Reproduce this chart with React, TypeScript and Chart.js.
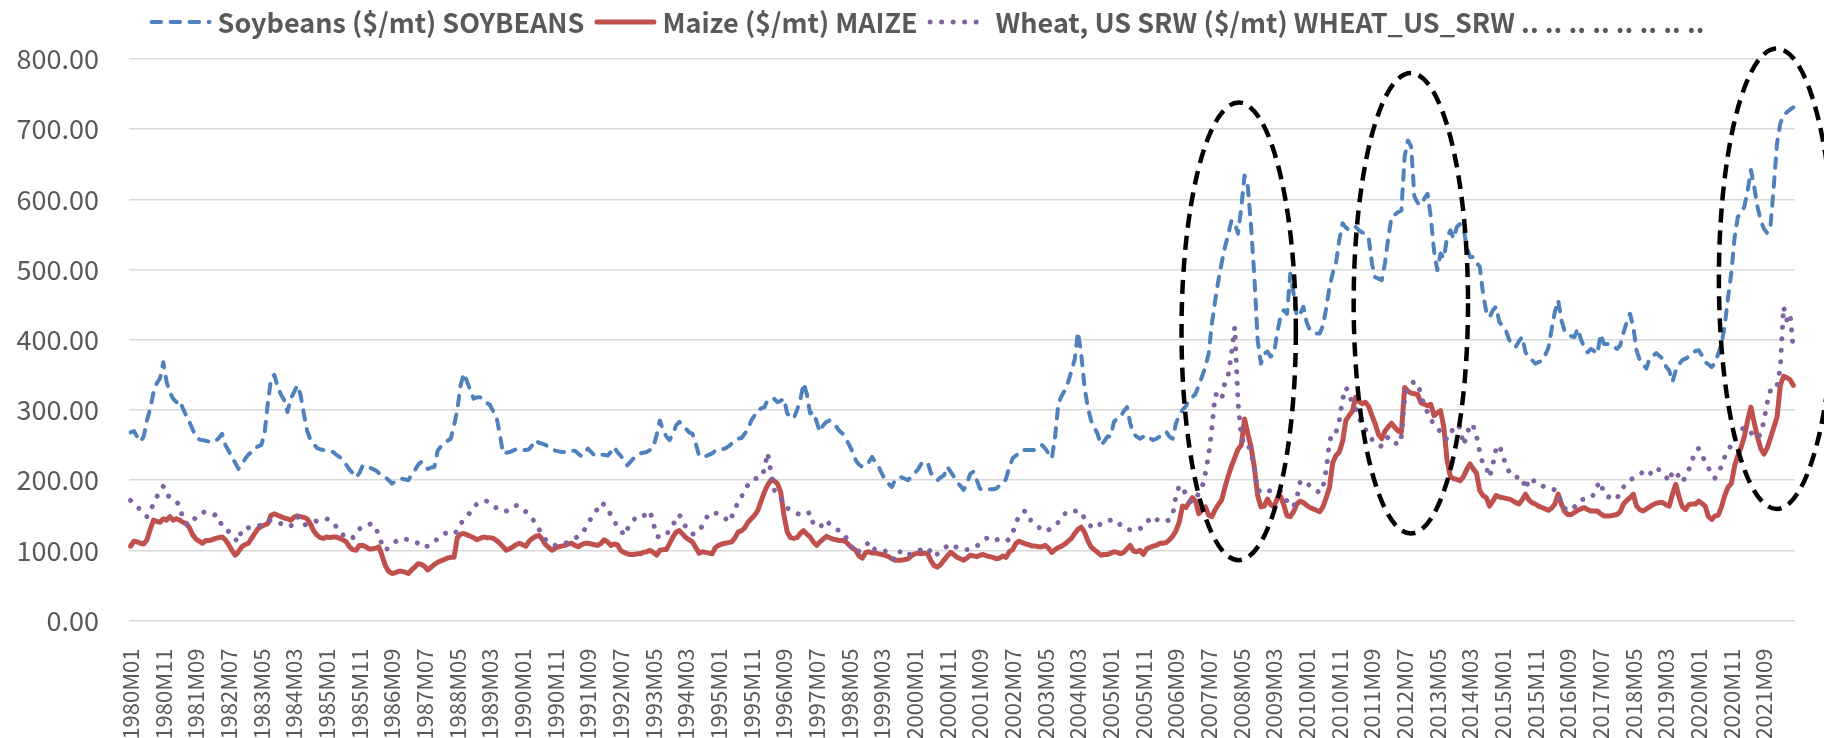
import React, { useEffect, useRef } from "react";
import { Chart, registerables } from "chart.js";

Chart.register(...registerables);

// ---------------- data ----------------
const START_YEAR = 1980;
const LABEL_EVERY = 10;

const SERIES_LABELS = [
  "Soybeans ($/mt) SOYBEANS",
  "Maize ($/mt) MAIZE",
  "Wheat, US SRW ($/mt) WHEAT_US_SRW .. .. .. .. .. .. .. ..",
];

// monthly, one row per year (1980 .. 2022M06)
const SOYBEANS = [
  268, 270, 262, 255, 262, 285, 302, 325, 338, 345, 368, 340,
  325, 316, 311, 314, 302, 292, 283, 272, 262, 258, 257, 256,
  255, 254, 256, 260, 266, 250, 242, 232, 225, 216, 222, 230,
  236, 240, 246, 248, 250, 266, 310, 345, 350, 333, 322, 314,
  297, 316, 325, 335, 322, 295, 271, 258, 252, 246, 244, 243,
  242, 241, 240, 236, 233, 228, 222, 215, 210, 204, 210, 220,
  221, 218, 216, 214, 210, 206, 204, 200, 195, 198, 200, 202,
  201, 200, 207, 214, 222, 226, 220, 216, 218, 219, 242, 248,
  252, 256, 259, 278, 300, 335, 352, 340, 328, 316, 318, 318,
  313, 310, 307, 298, 290, 266, 238, 239, 240, 242, 244, 245,
  243, 243, 244, 250, 257, 253, 252, 250, 247, 245, 242, 241,
  240, 240, 242, 242, 242, 238, 234, 240, 245, 240, 235, 236,
  236, 236, 235, 240, 247, 240, 235, 228, 221, 226, 231, 235,
  238, 239, 240, 243, 247, 264, 285, 271, 262, 257, 266, 278,
  283, 278, 273, 268, 266, 252, 235, 233, 234, 236, 238, 242,
  242, 244, 245, 248, 252, 255, 259, 260, 266, 273, 285, 292,
  300, 302, 304, 314, 316, 316, 311, 313, 316, 295, 290, 288,
  300, 314, 338, 323, 295, 297, 283, 269, 278, 283, 285, 280,
  276, 270, 266, 258, 250, 240, 228, 222, 219, 224, 226, 233,
  225, 219, 209, 200, 195, 190, 200, 204, 204, 202, 200, 205,
  210, 215, 223, 226, 225, 210, 202, 200, 204, 207, 219, 212,
  205, 197, 192, 186, 195, 209, 212, 200, 188, 186, 186, 187,
  187, 188, 192, 195, 202, 219, 231, 235, 238, 243, 243, 243,
  243, 243, 247, 250, 245, 238, 231, 262, 309, 320, 328, 340,
  355, 372, 411, 380, 333, 304, 285, 275, 266, 250, 255, 262,
  262, 283, 288, 290, 298, 304, 281, 266, 262, 259, 262, 264,
  260, 257, 259, 262, 266, 269, 262, 259, 281, 292, 300, 305,
  314, 318, 323, 335, 348, 361, 380, 423, 456, 485, 510, 532,
  550, 570, 566, 551, 589, 634, 618, 561, 490, 400, 366, 380,
  383, 376, 380, 410, 433, 442, 437, 494, 466, 433, 437, 447,
  425, 414, 410, 409, 409, 420, 445, 475, 495, 510, 542, 566,
  560, 556, 558, 561, 556, 553, 551, 545, 508, 489, 487, 485,
  510, 545, 575, 578, 582, 584, 661, 684, 675, 604, 595, 592,
  601, 608, 575, 527, 499, 523, 516, 546, 556, 544, 561, 565,
  560, 532, 518, 518, 510, 504, 466, 440, 432, 442, 447, 425,
  420, 413, 400, 392, 390, 398, 404, 382, 375, 371, 366, 368,
  370, 378, 388, 415, 440, 456, 428, 412, 408, 405, 404, 416,
  400, 390, 382, 387, 384, 380, 408, 394, 394, 394, 390, 387,
  392, 410, 425, 437, 418, 385, 371, 365, 359, 373, 377, 381,
  377, 373, 362, 356, 340, 356, 365, 371, 373, 376, 380, 384,
  385, 378, 368, 365, 361, 367, 380, 394, 420, 460, 495, 545,
  575, 580, 590, 612, 642, 618, 590, 570, 558, 552, 562, 618,
  680, 708, 720, 724, 728, 731,
];

const MAIZE = [
  106, 113, 112, 110, 109, 115, 130, 143, 141, 140, 145, 143,
  148, 143, 145, 143, 140, 138, 132, 122, 116, 113, 110, 114,
  114, 115, 117, 118, 119, 115, 108, 100, 93, 98, 105, 108,
  110, 117, 124, 131, 134, 136, 138, 150, 152, 150, 148, 146,
  145, 143, 147, 149, 148, 147, 145, 138, 128, 122, 118, 117,
  119, 118, 119, 119, 117, 115, 112, 105, 101, 100, 107, 107,
  105, 102, 102, 103, 105, 92, 78, 70, 67, 68, 70, 70,
  69, 67, 72, 76, 81, 80, 77, 72, 76, 80, 83, 85,
  87, 89, 90, 90, 118, 123, 124, 122, 120, 118, 115, 117,
  119, 118, 118, 117, 114, 110, 105, 100, 102, 105, 108, 110,
  108, 106, 113, 117, 120, 121, 116, 108, 104, 100, 103, 105,
  106, 107, 109, 110, 107, 105, 108, 110, 110, 109, 108, 107,
  110, 115, 112, 107, 109, 108, 100, 97, 95, 94, 94, 95,
  95, 97, 98, 100, 97, 93, 100, 101, 101, 110, 119, 126,
  128, 123, 118, 115, 112, 104, 96, 98, 97, 96, 95, 104,
  107, 109, 110, 111, 112, 118, 126, 128, 132, 140, 145, 150,
  157, 170, 183, 193, 200, 199, 195, 183, 150, 126, 118, 117,
  118, 124, 128, 123, 119, 112, 107, 112, 116, 120, 118, 116,
  115, 114, 114, 112, 107, 103, 100, 92, 89, 97, 98, 96,
  96, 95, 94, 93, 91, 88, 86, 86, 86, 87, 88, 92,
  95, 96, 95, 96, 95, 85, 78, 76, 80, 86, 92, 97,
  94, 90, 88, 86, 89, 93, 92, 91, 93, 94, 92, 91,
  90, 88, 89, 92, 90, 98, 101, 110, 113, 111, 109, 108,
  106, 106, 105, 105, 107, 103, 97, 101, 104, 106, 109, 113,
  117, 124, 130, 133, 126, 114, 105, 101, 97, 93, 94, 94,
  96, 98, 97, 95, 97, 102, 107, 99, 98, 100, 94, 102,
  104, 106, 107, 110, 110, 111, 115, 120, 128, 140, 163, 161,
  168, 175, 170, 152, 158, 162, 150, 148, 158, 165, 172, 190,
  206, 220, 232, 244, 250, 287, 266, 247, 218, 178, 162, 163,
  173, 165, 162, 174, 177, 165, 149, 148, 155, 166, 170, 168,
  164, 161, 159, 157, 155, 162, 175, 190, 225, 235, 240, 255,
  285, 292, 298, 318, 312, 309, 311, 305, 292, 280, 265, 259,
  270, 276, 281, 275, 270, 268, 332, 327, 324, 323, 322, 310,
  308, 306, 308, 292, 296, 299, 275, 228, 205, 202, 201, 199,
  205, 215, 223, 216, 210, 185, 178, 175, 163, 170, 178, 176,
  175, 174, 173, 171, 168, 166, 172, 180, 172, 168, 166, 163,
  161, 159, 157, 160, 166, 180, 166, 155, 151, 151, 154, 157,
  159, 161, 158, 156, 156, 156, 152, 149, 149, 149, 150, 151,
  155, 166, 171, 175, 180, 163, 158, 156, 159, 162, 165, 167,
  168, 168, 165, 163, 180, 194, 176, 162, 158, 165, 166, 166,
  170, 167, 163, 148, 144, 149, 150, 162, 178, 190, 195, 220,
  235, 247, 262, 285, 304, 282, 262, 245, 237, 246, 260, 275,
  290, 335, 348, 346, 343, 335,
];

const WHEAT = [
  171, 168, 162, 158, 152, 148, 158, 165, 176, 184, 191, 179,
  176, 173, 170, 163, 146, 138, 136, 140, 148, 151, 154, 155,
  154, 152, 150, 148, 133, 130, 127, 122, 116, 112, 130, 131,
  132, 133, 134, 135, 136, 139, 142, 143, 141, 140, 138, 136,
  135, 134, 142, 148, 142, 136, 137, 139, 140, 142, 143, 145,
  145, 143, 140, 133, 126, 122, 117, 117, 118, 122, 130, 135,
  136, 137, 138, 133, 120, 108, 100, 104, 108, 112, 115, 117,
  116, 115, 114, 113, 110, 105, 105, 106, 108, 112, 117, 121,
  124, 125, 124, 123, 128, 138, 143, 148, 155, 162, 166, 169,
  171, 170, 168, 165, 160, 157, 156, 156, 158, 160, 164, 163,
  158, 155, 150, 145, 138, 130, 122, 115, 111, 108, 107, 108,
  109, 110, 112, 115, 117, 120, 123, 130, 138, 146, 152, 160,
  168, 165, 160, 150, 141, 135, 130, 121, 130, 137, 143, 149,
  149, 149, 152, 156, 139, 121, 118, 120, 123, 128, 136, 145,
  151, 140, 133, 128, 123, 124, 127, 135, 144, 152, 154, 153,
  152, 150, 146, 140, 148, 156, 172, 177, 182, 194, 198, 202,
  203, 204, 215, 239, 212, 186, 180, 175, 165, 160, 158, 156,
  153, 150, 150, 152, 154, 137, 134, 133, 138, 143, 137, 133,
  130, 128, 126, 118, 110, 103, 95, 99, 103, 106, 112, 106,
  100, 99, 99, 99, 95, 90, 86, 95, 100, 97, 94, 95,
  97, 99, 101, 103, 104, 97, 91, 95, 100, 103, 106, 109,
  106, 104, 102, 101, 101, 102, 104, 106, 109, 113, 117, 119,
  118, 115, 116, 114, 113, 116, 124, 140, 148, 155, 156, 146,
  140, 137, 133, 128, 127, 129, 132, 136, 140, 148, 152, 156,
  157, 156, 156, 155, 145, 139, 134, 131, 134, 138, 141, 142,
  143, 143, 142, 136, 131, 130, 129, 128, 129, 131, 133, 138,
  146, 148, 144, 142, 141, 141, 144, 150, 178, 192, 190, 180,
  172, 168, 172, 182, 190, 210, 235, 275, 322, 322, 315, 340,
  350, 380, 418, 310, 262, 250, 251, 240, 217, 185, 185, 188,
  185, 185, 186, 187, 184, 180, 170, 165, 162, 175, 197, 200,
  196, 192, 188, 185, 182, 190, 215, 255, 268, 268, 285, 315,
  332, 325, 308, 302, 290, 278, 272, 268, 258, 252, 250, 248,
  255, 262, 258, 254, 250, 262, 316, 333, 338, 340, 338, 322,
  305, 297, 286, 280, 275, 268, 260, 258, 262, 278, 278, 275,
  250, 262, 280, 277, 263, 240, 222, 218, 204, 222, 245, 250,
  235, 222, 212, 205, 204, 204, 204, 187, 200, 203, 195, 193,
  192, 190, 190, 188, 186, 182, 166, 160, 156, 158, 162, 165,
  172, 173, 173, 175, 180, 192, 198, 180, 177, 175, 173, 173,
  185, 190, 196, 200, 203, 206, 208, 212, 207, 208, 214, 218,
  214, 210, 205, 198, 212, 213, 204, 197, 205, 215, 228, 242,
  245, 236, 226, 218, 206, 203, 210, 220, 233, 242, 250, 262,
  266, 272, 275, 274, 268, 260, 262, 265, 285, 310, 328, 327,
  335, 360, 447, 428, 437, 384,
];

const Y_MIN = 0;
const Y_MAX = 800;
const Y_STEP = 100;

// dashed ellipses, in data units: month index of centre, half-width in months, value centre, half-height in value units
const HIGHLIGHTS = [
  { centerIndex: 339.2, halfMonths: 17.5, centerValue: 412, halfValue: 326 },
  { centerIndex: 391.9, halfMonths: 17.5, centerValue: 452, halfValue: 328 },
  { centerIndex: 503.9, halfMonths: 17.7, centerValue: 487, halfValue: 328 },
];

const MONTH_LABELS = SOYBEANS.map((_, i) => {
  const y = START_YEAR + Math.floor(i / 12);
  const m = (i % 12) + 1;
  return `${y}M${m < 10 ? "0" + m : m}`;
});

// ---------------- styling ----------------
const FONT = '"Noto Sans CJK KR", "Noto Sans", sans-serif';
const TEXT = "#595959";
const GRID = "#D9D9D9";
const W = 1824;
const H = 738;

const legendPlugin = {
  id: "topLegend",
  afterDraw(chart: any) {
    const ctx = chart.ctx as CanvasRenderingContext2D;
    const sets = chart.data.datasets;
    ctx.save();
    ctx.font = `bold 27px ${FONT}`;
    const sampleW = 62;
    const gap1 = 6;
    const gap2 = 10;
    const widths = sets.map((d: any) => ctx.measureText(d.label).width);
    const total =
      widths.reduce((a: number, b: number) => a + b, 0) +
      sets.length * (sampleW + gap1) +
      (sets.length - 1) * gap2;
    let x = 927 - total / 2;
    const yc = 22;
    sets.forEach((d: any, k: number) => {
      ctx.beginPath();
      ctx.strokeStyle = d.borderColor;
      ctx.lineWidth = d.borderWidth;
      ctx.setLineDash(d.borderDash || []);
      ctx.lineCap = d.borderCapStyle || "butt";
      const cap = ctx.lineCap === "round" ? d.borderWidth / 2 : 0;
      ctx.moveTo(x + cap, yc);
      ctx.lineTo(x + sampleW - cap, yc);
      ctx.stroke();
      ctx.setLineDash([]);
      ctx.fillStyle = TEXT;
      ctx.textAlign = "left";
      ctx.textBaseline = "middle";
      ctx.fillText(d.label, x + sampleW + gap1, yc + 1);
      x += sampleW + gap1 + widths[k] + gap2;
    });
    ctx.restore();
  },
};

const ellipsePlugin = {
  id: "highlightEllipses",
  afterDatasetsDraw(chart: any) {
    const { ctx, scales } = chart;
    const xs = scales.x;
    const ys = scales.y;
    ctx.save();
    ctx.strokeStyle = "#000000";
    ctx.lineWidth = 4.5;
    ctx.setLineDash([14, 8]);
    HIGHLIGHTS.forEach((h) => {
      const cx = xs.getPixelForValue(h.centerIndex);
      const rx = xs.getPixelForValue(h.centerIndex + h.halfMonths) - cx;
      const cy = ys.getPixelForValue(h.centerValue);
      const ry = cy - ys.getPixelForValue(h.centerValue + h.halfValue);
      ctx.beginPath();
      ctx.ellipse(cx, cy, rx, ry, 0, 0, Math.PI * 2);
      ctx.stroke();
    });
    ctx.restore();
  },
};

export default function App() {
  const ref = useRef<HTMLCanvasElement | null>(null);

  useEffect(() => {
    if (!ref.current) return;
    const chart = new Chart(ref.current, {
      type: "line",
      data: {
        labels: MONTH_LABELS,
        datasets: [
          {
            label: SERIES_LABELS[0],
            data: SOYBEANS,
            borderColor: "#4F81BD",
            borderWidth: 4,
            borderDash: [9.5, 9.5],
            borderCapStyle: "round",
            borderJoinStyle: "round",
            pointRadius: 0,
            tension: 0,
            fill: false,
            order: 3,
          },
          {
            label: SERIES_LABELS[1],
            data: MAIZE,
            borderColor: "#C0504D",
            borderWidth: 5,
            borderCapStyle: "round",
            borderJoinStyle: "round",
            pointRadius: 0,
            tension: 0,
            fill: false,
            order: 2,
          },
          {
            label: SERIES_LABELS[2],
            data: WHEAT,
            borderColor: "#8064A2",
            borderWidth: 5,
            borderDash: [0.01, 11.5],
            borderCapStyle: "round",
            borderJoinStyle: "round",
            pointRadius: 0,
            tension: 0,
            fill: false,
            order: 1,
          },
        ] as any,
      },
      options: {
        animation: false,
        responsive: true,
        maintainAspectRatio: false,
        devicePixelRatio: 1,
        layout: { padding: { top: 59, right: 29, bottom: 0, left: 0 } },
        plugins: {
          legend: { display: false },
          tooltip: { enabled: false },
        },
        scales: {
          x: {
            type: "category",
            offset: true,
            grid: { display: false },
            border: { display: false },
            ticks: {
              autoSkip: false,
              maxRotation: 90,
              minRotation: 90,
              padding: 20,
              color: TEXT,
              font: { family: FONT, size: 22 },
              callback: function (this: any, value: any, index: number) {
                return index % LABEL_EVERY === 0 ? this.getLabelForValue(value) : null;
              },
            },
            afterFit: (scale: any) => {
              scale.height = 117.5;
            },
          },
          y: {
            min: Y_MIN,
            max: Y_MAX,
            grid: { color: GRID, lineWidth: 1.5, drawTicks: false },
            border: { display: false },
            ticks: {
              stepSize: Y_STEP,
              padding: 30,
              color: TEXT,
              font: { family: FONT, size: 27 },
              callback: (v: any) => Number(v).toFixed(2),
            },
            afterFit: (scale: any) => {
              scale.width = 129;
            },
          },
        },
      } as any,
      plugins: [ellipsePlugin, legendPlugin],
    });
    return () => chart.destroy();
  }, []);

  return (
    <div style={{ position: "fixed", left: 0, top: 0, width: W, height: H, background: "#fff" }}>
      <canvas ref={ref} />
    </div>
  );
}
